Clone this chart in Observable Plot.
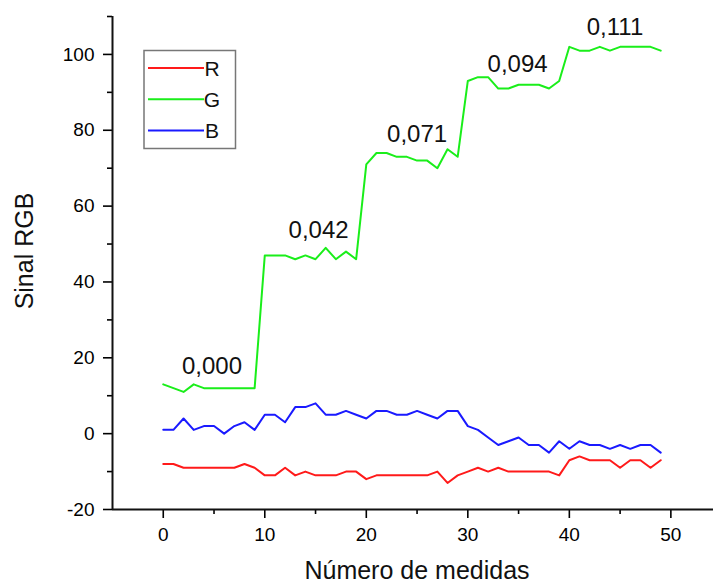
<!DOCTYPE html>
<html>
<head>
<meta charset="utf-8">
<script src="https://cdn.jsdelivr.net/npm/d3@7"></script>
<script src="https://cdn.jsdelivr.net/npm/@observablehq/plot@0.6"></script>
<style>
  html, body { margin: 0; padding: 0; background: #fff; }
  #chart { width: 713px; height: 584px; }
</style>
</head>
<body>
<div id="chart"></div>
<script>
// ---- data ----
const seriesNames = ["R", "G", "B"];
const seriesColors = ["#ff1a1a", "#1aee1a", "#1a1aff"];
const R = [-8,-8,-9,-9,-9,-9,-9,-9,-8,-9, -11,-11,-9,-11,-10,-11,-11,-11,-10,-10, -12,-11,-11,-11,-11,-11,-11,-10,-13,-11, -10,-9,-10,-9,-10,-10,-10,-10,-10,-11, -7,-6,-7,-7,-7,-9,-7,-7,-9,-7];
const G = [13,12,11,13,12,12,12,12,12,12, 47,47,47,46,47,46,49,46,48,46, 71,74,74,73,73,72,72,70,75,73, 93,94,94,91,91,92,92,92,91,93, 102,101,101,102,101,102,102,102,102,101];
const B = [1,1,4,1,2,2,0,2,3,1, 5,5,3,7,7,8,5,5,6,5, 4,6,6,5,5,6,5,4,6,6, 2,1,-1,-3,-2,-1,-3,-3,-5,-2, -4,-2,-3,-3,-4,-3,-4,-3,-3,-5];
const annotLabels = ["0,000", "0,042", "0,071", "0,094", "0,111"];
const annotX = [4.8, 15.3, 25.0, 34.9, 44.5];
const annotY = [15.8, 51.6, 76.9, 95.3, 105];
const xMajorTicks = [0, 10, 20, 30, 40, 50];
const xMinorTicks = [5, 15, 25, 35, 45];
const yMajorTicks = [-20, 0, 20, 40, 60, 80, 100];
const yMinorTicks = [-10, 10, 30, 50, 70, 90, 110];
const xTitle = "Número de medidas";
const yTitle = "Sinal RGB";

// ---- build table ----
const seriesValues = [R, G, B];
const rows = [];
seriesNames.forEach((name, i) => {
  seriesValues[i].forEach((v, j) => rows.push({series: name, x: j, y: v}));
});
const annots = annotLabels.map((t, i) => ({t, x: annotX[i], y: annotY[i]}));

const font = "'Liberation Sans', Arial, Helvetica, sans-serif";

const chart = Plot.plot({
  width: 713,
  height: 584,
  marginLeft: 112,
  marginRight: 0,
  marginTop: 16,
  marginBottom: 75,
  style: {fontFamily: font, background: "#fff", color: "#000"},
  x: {domain: [-5, 54.2]},
  y: {domain: [-20, 110]},
  color: {domain: seriesNames, range: seriesColors},
  marks: [
    Plot.axisX({ticks: xMajorTicks, tickSize: 9, tickPadding: 9, fontSize: 19, label: null, strokeWidth: 1.6, tickFormat: d => String(d)}),
    Plot.axisX({ticks: xMinorTicks, tickSize: 5, tickFormat: () => "", label: null, strokeWidth: 1.6}),
    Plot.axisY({ticks: yMajorTicks, tickSize: 9, tickPadding: 9, fontSize: 19, label: null, strokeWidth: 1.6, tickFormat: d => String(d)}),
    Plot.axisY({ticks: yMinorTicks, tickSize: 5, tickFormat: () => "", label: null, strokeWidth: 1.6}),
    Plot.ruleY([-20], {stroke: "#111", strokeWidth: 2}),
    Plot.ruleX([-5], {stroke: "#111", strokeWidth: 2}),
    Plot.line(rows, {x: "x", y: "y", z: "series", stroke: "series", strokeWidth: 2}),
    Plot.text(annots, {x: "x", y: "y", text: "t", fontSize: 24, lineAnchor: "bottom", textAnchor: "middle", fill: "#111"}),
    Plot.text([xTitle], {frameAnchor: "bottom", textAnchor: "middle", lineAnchor: "bottom", dy: 69, dx: 4, fontSize: 25, fill: "#111"}),
    Plot.text([yTitle], {frameAnchor: "left", textAnchor: "middle", lineAnchor: "bottom", rotate: -90, dx: -80, dy: -12, fontSize: 25, fill: "#111"})
  ]
});

// legend inside the plot
const svg = d3.select(chart);
const lg = svg.append("g").attr("font-family", font);
lg.append("rect").attr("x", 144).attr("y", 50.5).attr("width", 91.5).attr("height", 98)
  .attr("fill", "#fff").attr("stroke", "#777").attr("stroke-width", 1.5);
seriesNames.forEach((name, i) => {
  const yy = 68 + i * 31.3;
  lg.append("line").attr("x1", 148).attr("x2", 204).attr("y1", yy).attr("y2", yy)
    .attr("stroke", seriesColors[i]).attr("stroke-width", 2);
  lg.append("text").attr("x", 212).attr("y", yy).attr("dy", "0.36em")
    .attr("font-size", 21).attr("fill", "#111").text(name);
});

document.getElementById("chart").appendChild(chart);
</script>
</body>
</html>
